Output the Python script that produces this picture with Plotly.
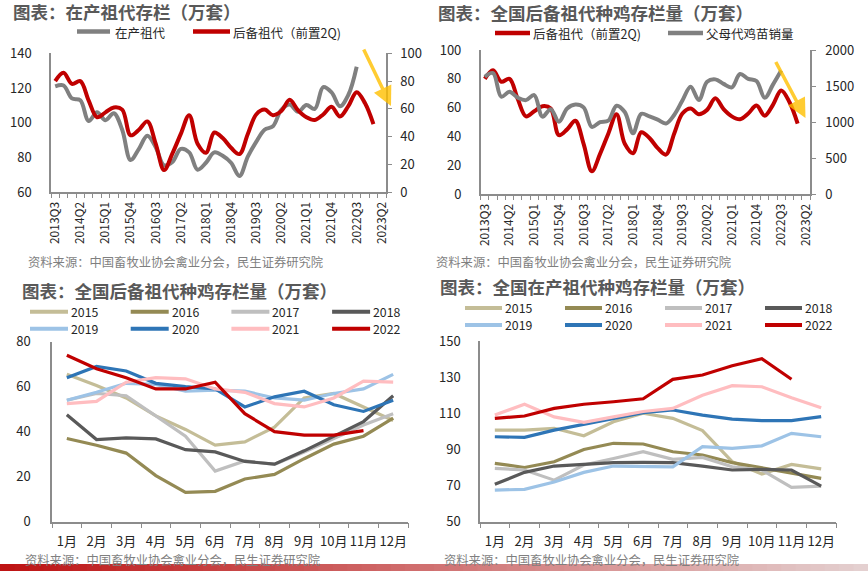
import plotly.graph_objects as go

# ---------------- data ----------------
quarters = ["2013Q3", "2013Q4",
            "2014Q1", "2014Q2", "2014Q3", "2014Q4",
            "2015Q1", "2015Q2", "2015Q3", "2015Q4",
            "2016Q1", "2016Q2", "2016Q3", "2016Q4",
            "2017Q1", "2017Q2", "2017Q3", "2017Q4",
            "2018Q1", "2018Q2", "2018Q3", "2018Q4",
            "2019Q1", "2019Q2", "2019Q3", "2019Q4",
            "2020Q1", "2020Q2", "2020Q3", "2020Q4",
            "2021Q1", "2021Q2", "2021Q3", "2021Q4",
            "2022Q1", "2022Q2", "2022Q3", "2022Q4",
            "2023Q1", "2023Q2"]
quarter_labels = ["2013Q3", "2014Q2", "2015Q1", "2015Q4", "2016Q3", "2017Q2", "2018Q1",
                  "2018Q4", "2019Q3", "2020Q2", "2021Q1", "2021Q4", "2022Q3", "2023Q2"]

# 在产祖代 (left axis, 万套)
producing_gp = [121, 121.5, 114, 113, 101, 106, 101.5, 105.5, 96, 78.6,
                85, 92.5, 86, 75.5, 77.5, 85, 83, 73, 77, 83,
                81, 77, 69.4, 80.5, 89, 96, 98, 107.5, 110.5, 106.4,
                110.2, 108, 120.5, 117.5, 109.5, 116, 132.3]
# 后备祖代（前置2Q）(万套)
reserve_gp_lead2q = [80, 86, 78, 80, 66, 54, 57.5, 61, 59.5, 41,
                     45, 51, 35, 16, 28, 42, 55.5, 35, 28.5, 43,
                     39, 32, 27.5, 42, 56, 59.5, 55.5, 58.5, 66.5, 59,
                     54, 52, 56, 61.5, 54.5, 62, 72, 64, 49]
# 父母代鸡苗销量 (万套)
parent_chick_sales = [1630, 1680, 1353, 1420, 1340, 1305, 1376, 1076, 1180, 1006,
                      1190, 1245, 1205, 935, 1000, 1020, 1228, 1140, 845, 1115,
                      1080, 1035, 982, 1100, 1300, 1491, 1306, 1560, 1593, 1530,
                      1482, 1667, 1600, 1570, 1338, 1520, 1715]

months = ["1月", "2月", "3月", "4月", "5月", "6月", "7月", "8月", "9月", "10月", "11月", "12月"]
years = ["2015", "2016", "2017", "2018", "2019", "2020", "2021", "2022"]

reserve_2015 = [65.5, 60.5, 55, 47, 41, 34, 35.5, 42, 55, 57, 51, 45]
reserve_2016 = [37, 34, 30.5, 20.5, 13, 13.5, 19, 21, 28, 34.5, 38, 46]
reserve_2017 = [54, 57, 56, 47, 38, 22.5, 27, 25.5, 31, 37, 43, 48]
reserve_2018 = [47.5, 36.5, 37.3, 36.8, 32, 31, 26.8, 25.6, 31.5, 38, 44.5, 56]
reserve_2019 = [54, 57.5, 61.5, 61, 58, 58.5, 58, 55, 54, 57, 59, 65.5]
reserve_2020 = [64, 69, 67, 61.5, 60, 59, 51, 55.5, 58, 52, 49, 54]
reserve_2021 = [52.5, 53.5, 62, 64, 63.5, 59, 57.5, 52.5, 51, 55, 62.5, 62]
reserve_2022 = [74, 68, 64, 59, 59, 62, 48, 40, 38.5, 38.5, 40.5]

prod_2015 = [100.7, 100.7, 101.7, 97.6, 105.3, 110, 107.2, 100.4, 83.2, 76.4, 81.7, 79.2]
prod_2016 = [82.3, 80, 83.2, 90, 93.4, 93, 88.7, 86.9, 82.7, 79.9, 76.8, 74]
prod_2017 = [79.5, 78.6, 73, 81.4, 85, 88.7, 84.5, 85.6, 80.4, 78.6, 69, 69.7]
prod_2018 = [70.7, 77.3, 80.8, 81.9, 82.7, 82.8, 82.7, 80.8, 78.6, 79, 78.6, 69.7]
prod_2019 = [67.5, 67.9, 72, 77.3, 80.8, 80.4, 80.4, 91.5, 90.6, 92, 98.9, 97]
prod_2020 = [97, 96.7, 100.7, 104, 107.2, 110.3, 111.8, 109, 106.8, 105.9, 105.9, 108.1]
prod_2021 = [109, 115, 108, 105, 108, 111, 112.7, 120, 125.3, 124.7, 118.6, 113]
prod_2022 = [107.2, 108.5, 112.7, 115, 116.4, 118, 128.8, 131.2, 136.3, 140.2, 128.8]

reserve_by_year = [reserve_2015, reserve_2016, reserve_2017, reserve_2018,
                   reserve_2019, reserve_2020, reserve_2021, reserve_2022]
prod_by_year = [prod_2015, prod_2016, prod_2017, prod_2018,
                prod_2019, prod_2020, prod_2021, prod_2022]

# ---------------- styling ----------------
W, H = 868, 571
FONT = "Noto Sans CJK SC"
AX = "#8C8C8C"
TXT = "#262626"
GRAY = "#808080"
RED = "#C00000"
year_colors = ["#C4BD97", "#948A54", "#BFBFBF", "#595959",
               "#9DC3E6", "#2E75B6", "#FFBDC0", "#C00000"]


def fx(x):
    return x / W


def fy(y):
    return 1 - y / H


fig = go.Figure()

# top-left
fig.add_trace(go.Scatter(x=quarters[:len(producing_gp)], y=producing_gp, xaxis="x", yaxis="y",
                         mode="lines", line=dict(color=GRAY, width=4, shape="spline", smoothing=1.0),
                         showlegend=False))
fig.add_trace(go.Scatter(x=quarters[:len(reserve_gp_lead2q)], y=reserve_gp_lead2q, xaxis="x", yaxis="y2",
                         mode="lines", line=dict(color=RED, width=4, shape="spline", smoothing=1.0),
                         showlegend=False))
# top-right
fig.add_trace(go.Scatter(x=quarters[:len(reserve_gp_lead2q)], y=reserve_gp_lead2q, xaxis="x2", yaxis="y3",
                         mode="lines", line=dict(color=RED, width=4, shape="spline", smoothing=1.0),
                         showlegend=False))
fig.add_trace(go.Scatter(x=quarters[:len(parent_chick_sales)], y=parent_chick_sales, xaxis="x2", yaxis="y4",
                         mode="lines", line=dict(color=GRAY, width=4, shape="spline", smoothing=1.0),
                         showlegend=False))
# bottom panels
for yr, vals, col in zip(years, reserve_by_year, year_colors):
    fig.add_trace(go.Scatter(x=months[:len(vals)], y=vals, xaxis="x3", yaxis="y5", mode="lines",
                             line=dict(color=col, width=3.2), showlegend=False, name=yr))
for yr, vals, col in zip(years, prod_by_year, year_colors):
    fig.add_trace(go.Scatter(x=months[:len(vals)], y=vals, xaxis="x4", yaxis="y6", mode="lines",
                             line=dict(color=col, width=3.2), showlegend=False, name=yr))

q_ticktext = [q if q in quarter_labels else "" for q in quarters]

common_x = dict(type="category", showgrid=False, zeroline=False, showline=True, linecolor=AX,
                linewidth=1.5, ticks="outside", tickcolor=AX, tickwidth=1, tickson="boundaries",
                fixedrange=True)
common_y = dict(showgrid=False, zeroline=False, showline=True, linecolor=AX, linewidth=1.5,
                tickfont=dict(size=13, color=TXT, family=FONT), fixedrange=True)

qx = dict(common_x, categoryorder="array", categoryarray=quarters, range=[-0.5, 39.5],
          tickmode="array", tickvals=quarters, ticktext=q_ticktext, ticklen=4, tickangle=-90,
          tickfont=dict(size=12, color=TXT, family=FONT), ticklabelstandoff=3)
mx = dict(common_x, categoryorder="array", categoryarray=months, range=[-0.5, 11.5],
          tickmode="array", tickvals=months, ticktext=months, ticklen=5, tickangle=0,
          tickfont=dict(size=13, color=TXT, family=FONT), ticklabelstandoff=7)

fig.update_layout(
    width=W, height=H, autosize=False, template="none",
    margin=dict(l=0, r=0, t=0, b=0),
    paper_bgcolor="white", plot_bgcolor="rgba(0,0,0,0)",
    font=dict(family=FONT, color=TXT),
    xaxis=dict(qx, domain=[fx(51), fx(386)], anchor="y"),
    yaxis=dict(common_y, domain=[fy(192.3), fy(53.3)], anchor="x", range=[60, 140], dtick=20,
               ticks="", ticklabelstandoff=15),
    yaxis2=dict(common_y, overlaying="y", side="right", anchor="x", range=[0, 100], dtick=20,
                ticks="outside", ticklen=4, tickcolor=AX, ticklabelstandoff=6),
    xaxis2=dict(qx, domain=[fx(480.7), fx(810)], anchor="y3"),
    yaxis3=dict(common_y, domain=[fy(194.3), fy(50)], anchor="x2", range=[0, 100], dtick=20,
                ticks="", ticklabelstandoff=15),
    yaxis4=dict(common_y, overlaying="y3", side="right", anchor="x2", range=[0, 2000], dtick=500,
                ticks="outside", ticklen=4, tickcolor=AX, ticklabelstandoff=7),
    xaxis3=dict(mx, domain=[fx(52), fx(408)], anchor="y5"),
    yaxis5=dict(common_y, domain=[fy(521.7), fy(341.7)], anchor="x3", range=[0, 80], dtick=20,
                ticks="", ticklabelstandoff=17),
    xaxis4=dict(mx, domain=[fx(480), fx(836)], anchor="y6"),
    yaxis6=dict(common_y, domain=[fy(521.7), fy(341)], anchor="x4", range=[50, 150], tick0=50,
                dtick=20, ticks="", ticklabelstandoff=15),
)

annotations = []
shapes = []


def text(x, y, s, size, color=TXT, bold=False, xanchor="left"):
    annotations.append(dict(x=fx(x), y=fy(y), xref="paper", yref="paper", text=f"<b>{s}</b>" if bold else s,
                            showarrow=False, xanchor=xanchor, yanchor="middle", borderpad=0,
                            font=dict(size=size, color=color, family=FONT)))


def swatch(x0, x1, y, color, width):
    shapes.append(dict(type="line", xref="paper", yref="paper", x0=fx(x0), x1=fx(x1), y0=fy(y), y1=fy(y),
                       line=dict(color=color, width=width)))


TITLE_C = "#595959"
SRC_C = "#7F7F7F"
text(12, 12, "图表：在产祖代存栏（万套）", 17.5, TITLE_C, bold=True)
text(437, 12.5, "图表：全国后备祖代种鸡存栏量（万套）", 17.5, TITLE_C, bold=True)
text(21, 290, "图表：全国后备祖代种鸡存栏量（万套）", 17.5, TITLE_C, bold=True)
text(439, 286.5, "图表：全国在产祖代种鸡存栏量（万套）", 17.5, TITLE_C, bold=True)

src = "资料来源：中国畜牧业协会禽业分会，民生证券研究院"
text(27, 262, src, 12.3, SRC_C)
text(435, 262, src, 12.3, SRC_C)
text(24, 560, src, 12.3, SRC_C)
text(443, 560, src, 12.3, SRC_C)

# top legends
swatch(77, 110, 31.5, GRAY, 4.5)
text(114, 33, "在产祖代", 12.5)
swatch(193, 230, 31.5, RED, 4.5)
text(232, 33, "后备祖代（前置2Q)", 12.5)
swatch(495, 530, 33, RED, 4.5)
text(532, 34, "后备祖代（前置2Q)", 12.5)
swatch(668, 703, 33, GRAY, 4.5)
text(705, 34, "父母代鸡苗销量", 12.5)

# bottom legends
for k, (yr, col) in enumerate(zip(years, year_colors)):
    r, c = divmod(k, 4)
    yl = [311.8, 328.8][r]
    x0 = 30 + c * 100.7
    swatch(x0, x0 + 38, yl, col, 4)
    text(x0 + 40, yl, yr, 12.3)
    yr2 = [308, 325][r]
    x2 = 465 + c * 100
    swatch(x2, x2 + 37, yr2, col, 4)
    text(x2 + 39, yr2, yr, 12.3)

# yellow arrows
for tip, tail in [((391, 106), (363, 48)), ((805.5, 118), (775, 60.5))]:
    annotations.append(dict(x=fx(tip[0]), y=fy(tip[1]), xref="paper", yref="paper", text="",
                            showarrow=True, ax=tail[0] - tip[0], ay=tail[1] - tip[1],
                            arrowhead=2, arrowsize=1.1, arrowwidth=3.5,
                            arrowcolor="rgba(255,192,0,0.8)"))

# bottom red gradient strip
n = 60
c0 = (190, 20, 20)
c1 = (228, 208, 208)
for i in range(n):
    t = i / (n - 1)
    col = tuple(int(c0[j] + (c1[j] - c0[j]) * t) for j in range(3))
    shapes.append(dict(type="rect", xref="paper", yref="paper", x0=i / n, x1=(i + 1) / n + 0.001,
                       y0=0, y1=fy(564), line=dict(width=0), fillcolor=f"rgb{col}", layer="below"))

fig.update_layout(annotations=annotations, shapes=shapes)
fig.write_html("out.html", config={"displayModeBar": False},
               post_script="document.body.style.margin='0';document.body.style.overflow='hidden';")
